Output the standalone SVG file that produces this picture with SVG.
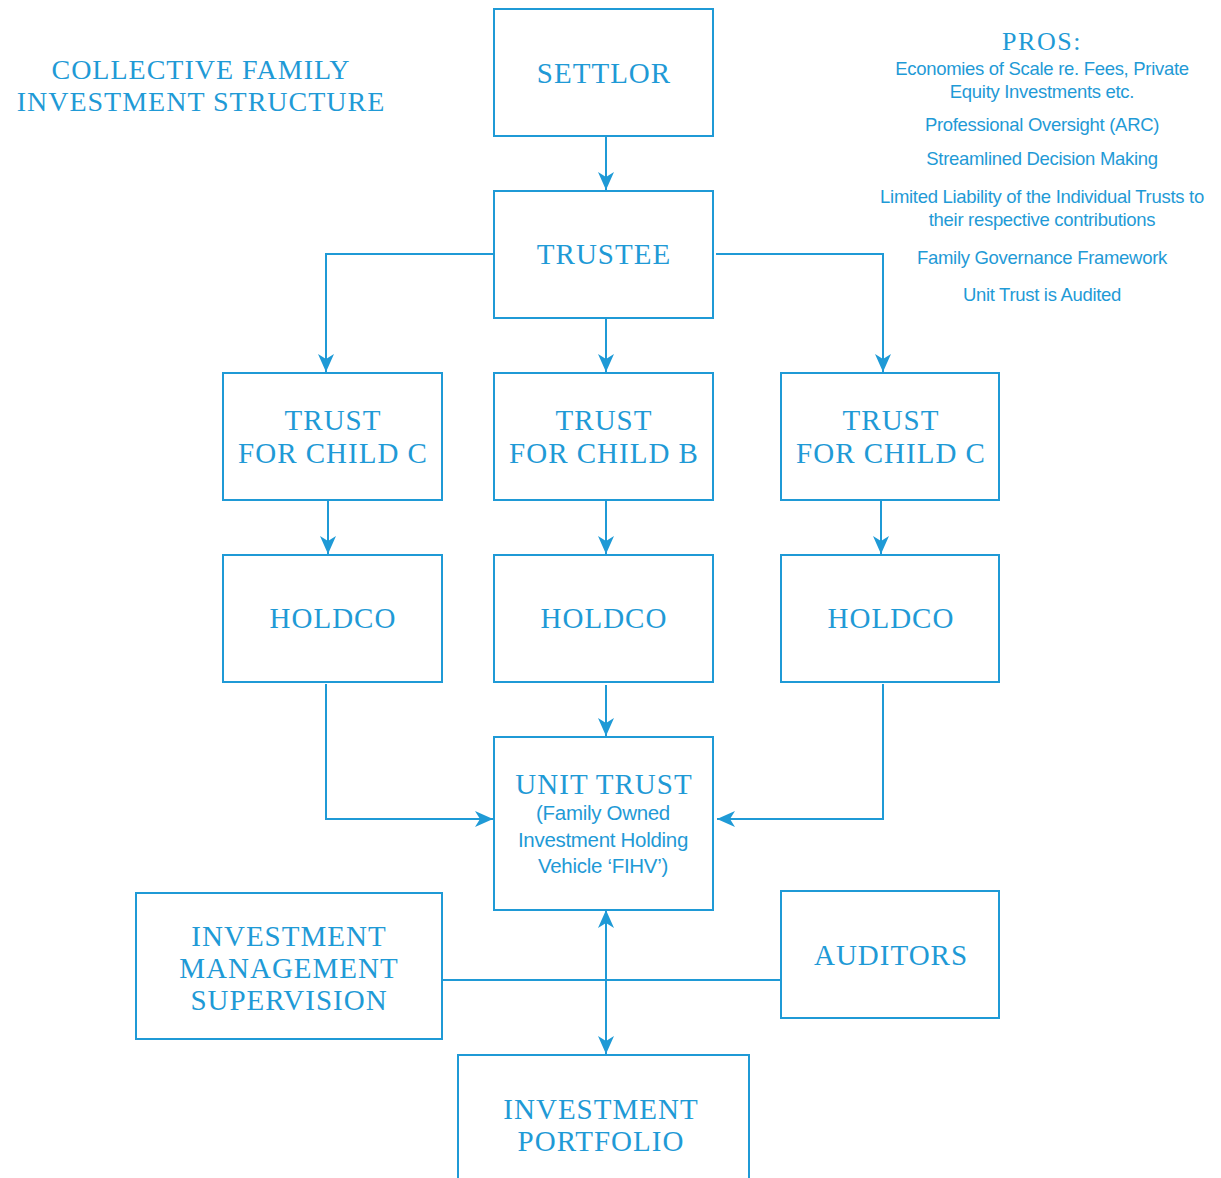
<svg xmlns="http://www.w3.org/2000/svg" width="1221" height="1178" viewBox="0 0 1221 1178">
<style>
.box{fill:#fff;stroke:#1f9ad6;stroke-width:2}
.ln{fill:none;stroke:#1f9ad6;stroke-width:2}
.s{font-family:"Liberation Serif","Times New Roman",serif;font-size:29px;fill:#1f9ad6;text-anchor:middle;letter-spacing:1px}
.t{font-family:"Liberation Sans",Arial,sans-serif;font-size:20.5px;fill:#1f9ad6;text-anchor:middle;letter-spacing:-0.3px}
.p{font-family:"Liberation Sans",Arial,sans-serif;font-size:18.5px;fill:#1f9ad6;text-anchor:middle;letter-spacing:-0.3px}
</style>
<defs>
<marker id="ah" viewBox="0 0 18 16" refX="18" refY="8" markerWidth="18" markerHeight="16" markerUnits="userSpaceOnUse" orient="auto-start-reverse">
<path d="M0,0 L18,8 L0,16 L5,8 Z" fill="#1f9ad6"/>
</marker>
</defs>
<rect width="1221" height="1178" fill="#fff"/>
<g id="title">
<text class="s" x="201" y="79" style="font-size:28px">COLLECTIVE FAMILY</text>
<text class="s" x="201" y="111" style="font-size:28px">INVESTMENT STRUCTURE</text>
</g>
<g id="pros">
<text class="s" x="1042" y="50" style="font-size:26px;letter-spacing:1.5px">PROS:</text>
<text class="p" x="1042" y="75">Economies of Scale re. Fees, Private</text>
<text class="p" x="1042" y="98">Equity Investments etc.</text>
<text class="p" x="1042" y="131">Professional Oversight (ARC)</text>
<text class="p" x="1042" y="165">Streamlined Decision Making</text>
<text class="p" x="1042" y="203">Limited Liability of the Individual Trusts to</text>
<text class="p" x="1042" y="226">their respective contributions</text>
<text class="p" x="1042" y="264">Family Governance Framework</text>
<text class="p" x="1042" y="301">Unit Trust is Audited</text>
</g>
<g id="connectors">
<line class="ln" x1="606" y1="137" x2="606" y2="190" marker-end="url(#ah)"/>
<polyline class="ln" points="494,254 326,254 326,372" marker-end="url(#ah)"/>
<line class="ln" x1="606" y1="319" x2="606" y2="372" marker-end="url(#ah)"/>
<polyline class="ln" points="716,254 883,254 883,372" marker-end="url(#ah)"/>
<line class="ln" x1="328" y1="501" x2="328" y2="554" marker-end="url(#ah)"/>
<line class="ln" x1="606" y1="501" x2="606" y2="554" marker-end="url(#ah)"/>
<line class="ln" x1="881" y1="501" x2="881" y2="554" marker-end="url(#ah)"/>
<polyline class="ln" points="326,684 326,819 493,819" marker-end="url(#ah)"/>
<line class="ln" x1="606" y1="685" x2="606" y2="736" marker-end="url(#ah)"/>
<polyline class="ln" points="883,684 883,819 717,819" marker-end="url(#ah)"/>
<line class="ln" x1="442" y1="980" x2="781" y2="980"/>
<line class="ln" x1="606" y1="910" x2="606" y2="1054" marker-start="url(#ah)" marker-end="url(#ah)"/>
</g>
<g id="settlor">
<rect class="box" x="494" y="9" width="219" height="127"/>
<text class="s" x="604" y="83">SETTLOR</text>
</g>
<g id="trustee">
<rect class="box" x="494" y="191" width="219" height="127"/>
<text class="s" x="604" y="264">TRUSTEE</text>
</g>
<g id="trust-c-left">
<rect class="box" x="223" y="373" width="219" height="127"/>
<text class="s" x="333" y="430">TRUST</text>
<text class="s" x="333" y="463">FOR CHILD C</text>
</g>
<g id="trust-b">
<rect class="box" x="494" y="373" width="219" height="127"/>
<text class="s" x="604" y="430">TRUST</text>
<text class="s" x="604" y="463">FOR CHILD B</text>
</g>
<g id="trust-c-right">
<rect class="box" x="781" y="373" width="218" height="127"/>
<text class="s" x="891" y="430">TRUST</text>
<text class="s" x="891" y="463">FOR CHILD C</text>
</g>
<g id="holdco-left">
<rect class="box" x="223" y="555" width="219" height="127"/>
<text class="s" x="333" y="628">HOLDCO</text>
</g>
<g id="holdco-mid">
<rect class="box" x="494" y="555" width="219" height="127"/>
<text class="s" x="604" y="628">HOLDCO</text>
</g>
<g id="holdco-right">
<rect class="box" x="781" y="555" width="218" height="127"/>
<text class="s" x="891" y="628">HOLDCO</text>
</g>
<g id="unit-trust">
<rect class="box" x="494" y="737" width="219" height="173"/>
<text class="s" x="604" y="794">UNIT TRUST</text>
<text class="t" x="603" y="820">(Family Owned</text>
<text class="t" x="603" y="847">Investment Holding</text>
<text class="t" x="603" y="873">Vehicle ‘FIHV’)</text>
</g>
<g id="investment-management">
<rect class="box" x="136" y="893" width="306" height="146"/>
<text class="s" x="289" y="946">INVESTMENT</text>
<text class="s" x="289" y="978">MANAGEMENT</text>
<text class="s" x="289" y="1010">SUPERVISION</text>
</g>
<g id="auditors">
<rect class="box" x="781" y="891" width="218" height="127"/>
<text class="s" x="891" y="965">AUDITORS</text>
</g>
<g id="investment-portfolio">
<path class="ln" d="M458,1178 L458,1055 L749,1055 L749,1178"/>
<text class="s" x="601" y="1119">INVESTMENT</text>
<text class="s" x="601" y="1151">PORTFOLIO</text>
</g>
</svg>
